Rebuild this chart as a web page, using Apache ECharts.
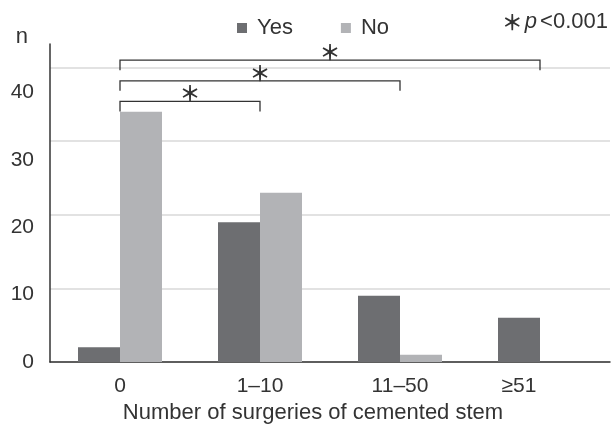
<!DOCTYPE html>
<html>
<head>
<meta charset="utf-8">
<script src="https://cdn.jsdelivr.net/npm/echarts@6/dist/echarts.min.js"></script>
<style>
  html, body { margin: 0; padding: 0; background: #fff; }
  #main { width: 612px; height: 429px; }
</style>
</head>
<body>
<div id="main"></div>
<script>
// categories and counts
var categories = ['0', '1–10', '11–50', '≥51'];
var yesValues = [2, 19, 9, 6];
var noValues = [34, 23, 1, 0];
// significance brackets: [from category, to category, height]
var bracketFrom = [0, 0, 0];
var bracketTo = [1, 2, 3];
var bracketLevel = [35.4, 38.2, 41.0];
var yTicks = [0, 10, 20, 30, 40];

var FONT = 'Liberation Sans, Arial, sans-serif';
var CJK = 'Noto Sans CJK KR, Liberation Sans, sans-serif';

var bracketData = [];
for (var i = 0; i < bracketFrom.length; i++) {
    bracketData.push([bracketFrom[i], bracketTo[i], bracketLevel[i]]);
}

var myChart = echarts.init(document.getElementById('main'));
myChart.setOption({
    animation: false,
    backgroundColor: '#fff',
    textStyle: { fontFamily: FONT, color: '#333' },
    legend: {
        data: ['Yes', 'No'],
        left: 232,
        top: 12,
        icon: 'rect',
        itemWidth: 10,
        itemHeight: 10,
        itemGap: 48,
        textStyle: { fontSize: 22, color: '#333', fontFamily: FONT, padding: [0, 0, 0, 5] }
    },
    graphic: [{
        type: 'text',
        right: 4,
        top: 11,
        style: {
            text: '{a|＊}{p|p}{b|<0.001}',
            rich: {
                a: { fontSize: 21, fontWeight: 'bold', fontFamily: CJK, fill: '#333' },
                p: { fontSize: 22, fontStyle: 'italic', fontFamily: FONT, fill: '#333', padding: [0, 3, 0, 2] },
                b: { fontSize: 22, fontFamily: FONT, fill: '#333' }
            }
        }
    }],
    grid: { left: 50, right: 2, top: 44, bottom: 67 },
    xAxis: {
        type: 'category',
        data: categories,
        axisTick: { show: false },
        axisLine: { lineStyle: { color: '#333', width: 1.5 } },
        axisLabel: {
            fontSize: 21, color: '#333', margin: 14,
            // the last label sits left of its group in the source
            formatter: function (v) { return v === '≥51' ? '{s|' + v + '}' : v; },
            rich: { s: { fontSize: 21, color: '#333', padding: [0, 42, 0, 0] } }
        },
        name: 'Number of surgeries of cemented stem',
        nameLocation: 'middle',
        nameGap: 40,
        nameTextStyle: { fontSize: 22, color: '#333', padding: [0, 34, 0, 0] }
    },
    yAxis: [{
        type: 'value',
        min: 0,
        max: 43.2,
        interval: 10,
        name: 'n',
        nameLocation: 'end',
        nameGap: -4,
        nameTextStyle: { fontSize: 22, color: '#333', align: 'right', padding: [0, 22, 0, 0] },
        axisLine: { show: true, lineStyle: { color: '#333', width: 1.5 } },
        axisTick: { show: false },
        axisLabel: { show: false },
        splitLine: { showMaxLine: false, lineStyle: { color: '#d9d9d9', width: 1.5 } }
    }, {
        // tick labels sit on their own spacing in the source figure
        type: 'value',
        min: 0,
        max: 47.2,
        interval: 10,
        position: 'left',
        axisLine: { show: false },
        axisTick: { show: false },
        splitLine: { show: false },
        axisLabel: {
            fontSize: 21, color: '#333', margin: 16, showMaxLabel: false,
            formatter: function (v) { return yTicks.indexOf(v) >= 0 ? String(v) : ''; }
        }
    }],
    series: [{
        name: 'Yes',
        type: 'bar',
        data: yesValues,
        barWidth: 42,
        barGap: '0%',
        itemStyle: { color: '#6d6e71' }
    }, {
        name: 'No',
        type: 'bar',
        data: noValues,
        barWidth: 42,
        itemStyle: { color: '#b2b3b6' }
    }, {
        type: 'custom',
        data: bracketData,
        silent: true,
        z: 5,
        renderItem: function (params, api) {
            var a = api.coord([api.value(0), api.value(2)]);
            var b = api.coord([api.value(1), api.value(2)]);
            var drop = 10;
            return {
                type: 'group',
                children: [{
                    type: 'polyline',
                    shape: { points: [[a[0], a[1] + drop], [a[0], a[1]], [b[0], b[1]], [b[0], b[1] + drop]] },
                    style: { stroke: '#333', lineWidth: 1.3, fill: null }
                }, {
                    type: 'text',
                    x: (a[0] + b[0]) / 2,
                    y: a[1] - 8,
                    style: {
                        text: '＊', fontSize: 21, fontWeight: 'bold', fontFamily: CJK, fill: '#333',
                        align: 'center', verticalAlign: 'middle'
                    }
                }]
            };
        }
    }]
});
</script>
</body>
</html>
